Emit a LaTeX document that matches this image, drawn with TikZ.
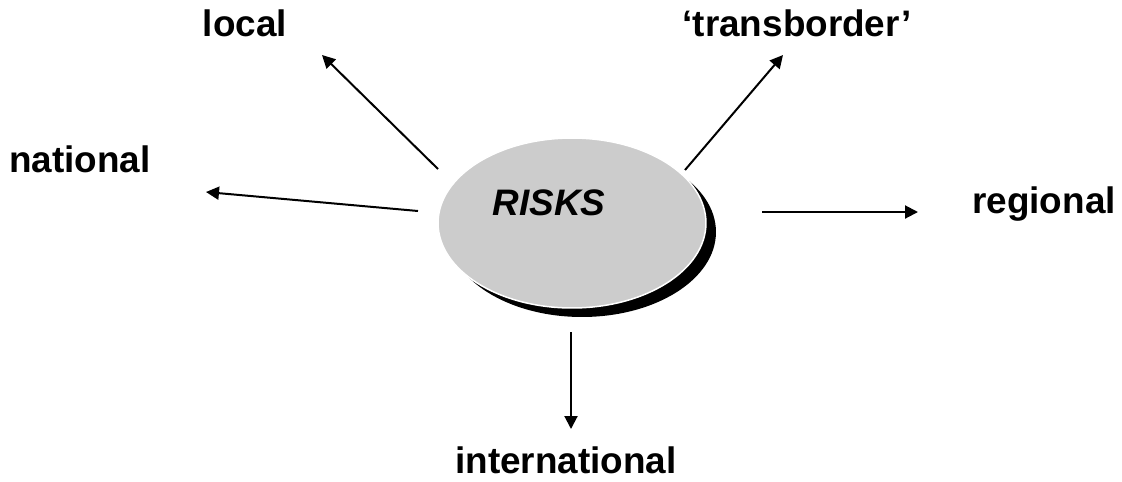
\documentclass[tikz,border=0pt]{standalone}
\usepackage{fontspec}
\setmainfont{Liberation Sans}
\usetikzlibrary{arrows.meta,shapes.geometric,shadows}

\begin{document}
\begin{tikzpicture}[
  x=.02cm, y=-.02cm,
  font=\bfseries\fontsize{21}{25}\selectfont,
  >={Triangle[length=.26cm, width=.26cm]},
  blob/.style={ellipse, fill=black!20, draw=white, line width=.03cm,
    minimum width=5.36cm, minimum height=3.4cm, inner sep=0pt,
    drop shadow={shadow xshift=.2cm, shadow yshift=-.18cm, fill=black, opacity=1}},
  lbl/.style={anchor=base, inner sep=0pt},
  ray/.style={black, line width=.04cm, ->}
]
\useasboundingbox (0,0) rectangle (1122,481);

% centre
\node[blob] (risks) at (572,223) {};
\node[lbl, font=\bfseries\itshape\fontsize{21}{25}\selectfont] (risktxt) at (549,215) {RISKS};

% scales
\node[lbl] (local) at (245,36) {local};
\node[lbl] (trans) at (797,36) {`transborder'};
\node[lbl] (national) at (80,172) {national};
\node[lbl] (regional) at (1044,213) {regional};
\node[lbl] (intl) at (566,473) {international};

% arrow ends
\coordinate (s1) at (438,169);
\coordinate (e1) at (322,55);
\coordinate (s2) at (418,211);
\coordinate (e2) at (206,192);
\coordinate (s3) at (685,170);
\coordinate (e3) at (783,55);
\coordinate (s4) at (762,212);
\coordinate (e4) at (918,212);
\coordinate (s5) at (571,332);
\coordinate (e5) at (571,429);

\draw[ray] (s1) -- (e1);
\draw[ray] (s2) -- (e2);
\draw[ray] (s3) -- (e3);
\draw[ray] (s4) -- (e4);
\draw[ray] (s5) -- (e5);

\end{tikzpicture}
\end{document}
